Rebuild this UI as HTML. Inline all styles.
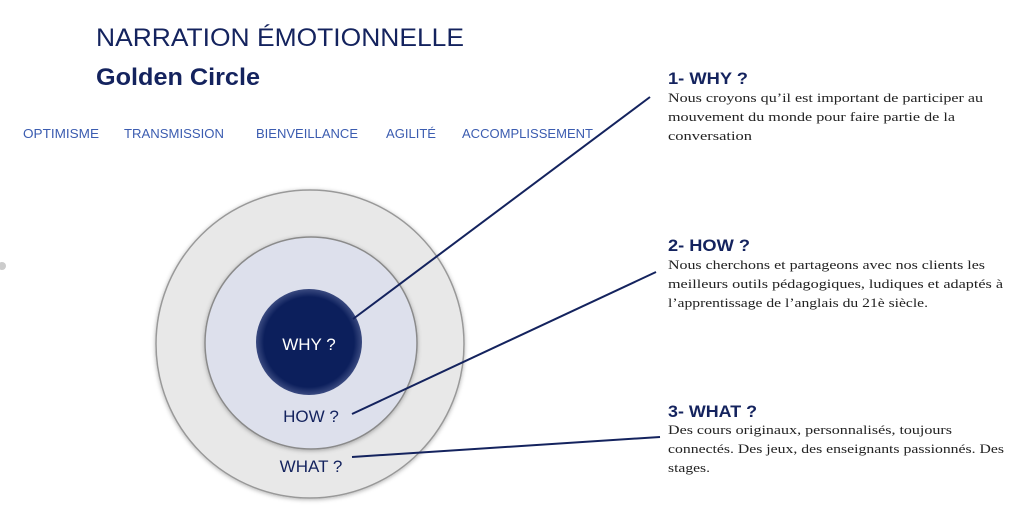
<!DOCTYPE html>
<html><head><meta charset="utf-8"><style>
html,body{margin:0;padding:0;background:#fff;width:1024px;height:524px;overflow:hidden}
svg{display:block}
.s{font-family:"Liberation Sans",sans-serif}
.b{font-family:"Liberation Serif",serif;font-size:13px;fill:#222}
</style></head><body>
<svg width="1024" height="524" viewBox="0 0 1024 524">
<defs>
<radialGradient id="g" cx="50%" cy="50%" r="50%">
<stop offset="0.85" stop-color="#0c1f5c"/><stop offset="1" stop-color="#3a4a80"/>
</radialGradient>
<filter id="sh" x="-10%" y="-10%" width="120%" height="120%"><feDropShadow dx="0" dy="1" stdDeviation="2" flood-color="#000" flood-opacity="0.3"/></filter>
</defs>
<circle cx="2" cy="266" r="4" fill="#ccc"/>
<text class="s" x="96" y="46" font-size="25" fill="#14235e" textLength="368" lengthAdjust="spacingAndGlyphs">NARRATION ÉMOTIONNELLE</text>
<text class="s" x="96" y="85" font-size="24" font-weight="bold" fill="#14235e" textLength="164" lengthAdjust="spacingAndGlyphs">Golden Circle</text>
<g class="s" font-size="13" fill="#3b5cb0">
<text x="23" y="138" textLength="76" lengthAdjust="spacingAndGlyphs">OPTIMISME</text>
<text x="124" y="138" textLength="100" lengthAdjust="spacingAndGlyphs">TRANSMISSION</text>
<text x="256" y="138" textLength="102" lengthAdjust="spacingAndGlyphs">BIENVEILLANCE</text>
<text x="386" y="138" textLength="50" lengthAdjust="spacingAndGlyphs">AGILITÉ</text>
<text x="462" y="138" textLength="131" lengthAdjust="spacingAndGlyphs">ACCOMPLISSEMENT</text>
</g>
<circle cx="310" cy="344" r="154" fill="#e8e8e8" stroke="#999" stroke-width="1.5" filter="url(#sh)"/>
<circle cx="311" cy="343" r="106" fill="#dde0ec" stroke="#8a8a8a" stroke-width="1.5" filter="url(#sh)"/>
<circle cx="309" cy="342" r="53" fill="url(#g)"/>
<text class="s" x="309" y="350" font-size="17" fill="#fff" text-anchor="middle">WHY ?</text>
<text class="s" x="311" y="422" font-size="17" fill="#14235e" text-anchor="middle">HOW ?</text>
<text class="s" x="311" y="472" font-size="17" fill="#14235e" text-anchor="middle">WHAT ?</text>
<g stroke="#14235e" stroke-width="2" fill="none">
<line x1="353" y1="319" x2="650" y2="97"/>
<line x1="352" y1="414" x2="656" y2="272"/>
<line x1="352" y1="457" x2="660" y2="437"/>
</g>
<g class="s" font-size="17" font-weight="bold" fill="#14235e">
<text x="668" y="84" textLength="80" lengthAdjust="spacingAndGlyphs">1- WHY ?</text>
<text x="668" y="251" textLength="82" lengthAdjust="spacingAndGlyphs">2- HOW  ?</text>
<text x="668" y="417" textLength="89" lengthAdjust="spacingAndGlyphs">3- WHAT  ?</text>
</g>
<text class="b" x="668" y="102" textLength="315" lengthAdjust="spacingAndGlyphs">Nous croyons qu’il est important de participer au</text>
<text class="b" x="668" y="121" textLength="287" lengthAdjust="spacingAndGlyphs">mouvement du monde pour faire partie de la</text>
<text class="b" x="668" y="140" textLength="84" lengthAdjust="spacingAndGlyphs">conversation</text>
<text class="b" x="668" y="269" textLength="317" lengthAdjust="spacingAndGlyphs">Nous cherchons et partageons avec nos clients les</text>
<text class="b" x="668" y="288" textLength="335" lengthAdjust="spacingAndGlyphs">meilleurs outils pédagogiques, ludiques et adaptés à</text>
<text class="b" x="668" y="307" textLength="260" lengthAdjust="spacingAndGlyphs">l’apprentissage de l’anglais du 21è siècle.</text>
<text class="b" x="668" y="434" textLength="284" lengthAdjust="spacingAndGlyphs">Des cours originaux, personnalisés, toujours</text>
<text class="b" x="668" y="453" textLength="336" lengthAdjust="spacingAndGlyphs">connectés. Des jeux, des enseignants passionnés. Des</text>
<text class="b" x="668" y="472" textLength="42" lengthAdjust="spacingAndGlyphs">stages.</text>
</svg>
</body></html>
